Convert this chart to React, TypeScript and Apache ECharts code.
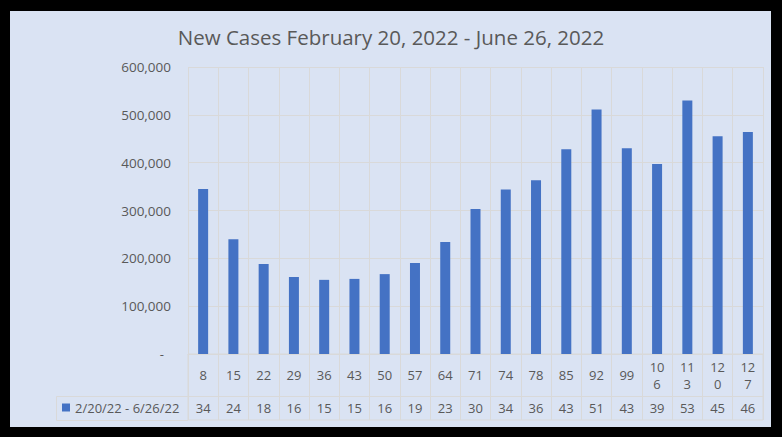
import React, { useEffect, useRef } from "react";
import * as echarts from "echarts";

const categories = ["8", "15", "22", "29", "36", "43", "50", "57", "64", "71", "74", "78", "85", "92", "99", "106", "113", "120", "127"];
const newCases = [345000, 240000, 188000, 161000, 155000, 157000, 167000, 190000, 234000, 303000, 344000, 363000, 428000, 511000, 430000, 397000, 530000, 455000, 464000];
const tableLabels = ["34", "24", "18", "16", "15", "15", "16", "19", "23", "30", "34", "36", "43", "51", "43", "39", "53", "45", "46"];
const seriesName = "2/20/22 - 6/26/22";
const titleText = "New Cases February 20, 2022 - June 26, 2022";

const FONT = "'Open Sans', 'Noto Sans', sans-serif";
const TXT = "#595959";
const GRID = "#d9d9d9";

export default function App() {
  const ref = useRef<HTMLDivElement>(null);
  useEffect(() => {
    if (!ref.current) return;
    const chart = echarts.init(ref.current, null, { renderer: "svg" });
    chart.setOption({
      animation: false,
      backgroundColor: "transparent",
      textStyle: { fontFamily: FONT },
      title: {
        text: titleText,
        left: "center",
        top: 21,
        textStyle: { fontFamily: FONT, fontSize: 20.5, fontWeight: "normal", color: TXT },
      },
      legend: {
        data: [seriesName],
        left: 62,
        top: 401,
        padding: 0,
        icon: "rect",
        itemWidth: 8,
        itemHeight: 8,
        itemGap: 4,
        textStyle: { fontFamily: FONT, fontSize: 13, color: TXT },
      },
      grid: [
        { left: 188, right: 19, top: 67, bottom: 83, containLabel: false },
        { left: 188, right: 19, top: 354, height: 66, show: true, borderColor: GRID, borderWidth: 1, backgroundColor: "transparent" },
      ],
      xAxis: [
        {
          type: "category",
          gridIndex: 0,
          data: categories,
          position: "bottom",
          axisLine: { show: true, lineStyle: { color: GRID } },
          axisTick: { show: false },
          splitLine: { show: true, interval: 0, lineStyle: { color: GRID } },
          axisLabel: {
            interval: 0,
            margin: 21,
            verticalAlign: "middle",
            lineHeight: 17,
            fontSize: 13,
            color: TXT,
            fontFamily: FONT,
            formatter: (v: string) => (v.length > 2 ? v.slice(0, 2) + "\n" + v.slice(2) : v),
          },
        },
        {
          type: "category",
          gridIndex: 0,
          data: tableLabels,
          position: "bottom",
          offset: 0,
          axisLine: { show: false },
          axisTick: { show: false },
          splitLine: { show: false },
          axisLabel: { interval: 0, margin: 54, verticalAlign: "middle", fontSize: 13, color: TXT, fontFamily: FONT },
        },
        {
          type: "category",
          gridIndex: 1,
          data: categories,
          axisLine: { show: false },
          axisTick: { show: false },
          axisLabel: { show: false, interval: 0 },
          splitLine: { show: true, interval: 0, lineStyle: { color: GRID } },
        },
      ],
      yAxis: [
        {
          type: "value",
          gridIndex: 0,
          min: 0,
          max: 600000,
          interval: 100000,
          axisLine: { show: false },
          axisTick: { show: false },
          splitLine: { show: true, lineStyle: { color: GRID } },
          axisLabel: {
            margin: 17,
            fontSize: 13.5,
            color: TXT,
            fontFamily: FONT,
            formatter: (v: number) => (v === 0 ? "{z|-}" : v.toLocaleString("en-US")),
            rich: { z: { fontSize: 13, color: TXT, fontFamily: FONT, padding: [0, 7, 0, 0] } },
          },
        },
        { type: "value", gridIndex: 1, show: false },
      ],
      graphic: [
        { type: "line", shape: { x1: 56.5, y1: 396.5, x2: 763, y2: 396.5 }, style: { stroke: GRID, lineWidth: 1 } },
        { type: "line", shape: { x1: 56.5, y1: 396.5, x2: 56.5, y2: 420.5 }, style: { stroke: GRID, lineWidth: 1 } },
        { type: "line", shape: { x1: 56.5, y1: 420.5, x2: 188, y2: 420.5 }, style: { stroke: GRID, lineWidth: 1 } },
      ],
      series: [
        {
          name: seriesName,
          type: "bar",
          xAxisIndex: 0,
          yAxisIndex: 0,
          data: newCases,
          barWidth: 10,
          itemStyle: { color: "#4472c4" },
        },
      ],
    });
    return () => chart.dispose();
  }, []);

  return (
    <div style={{ position: "fixed", left: 0, top: 0, width: 782, height: 437, background: "#000" }}>
      <div style={{ position: "absolute", left: 10, top: 11, width: 761, height: 416, background: "#dae3f3" }} />
      <div ref={ref} style={{ position: "absolute", left: 0, top: 0, width: 782, height: 437 }} />
    </div>
  );
}
